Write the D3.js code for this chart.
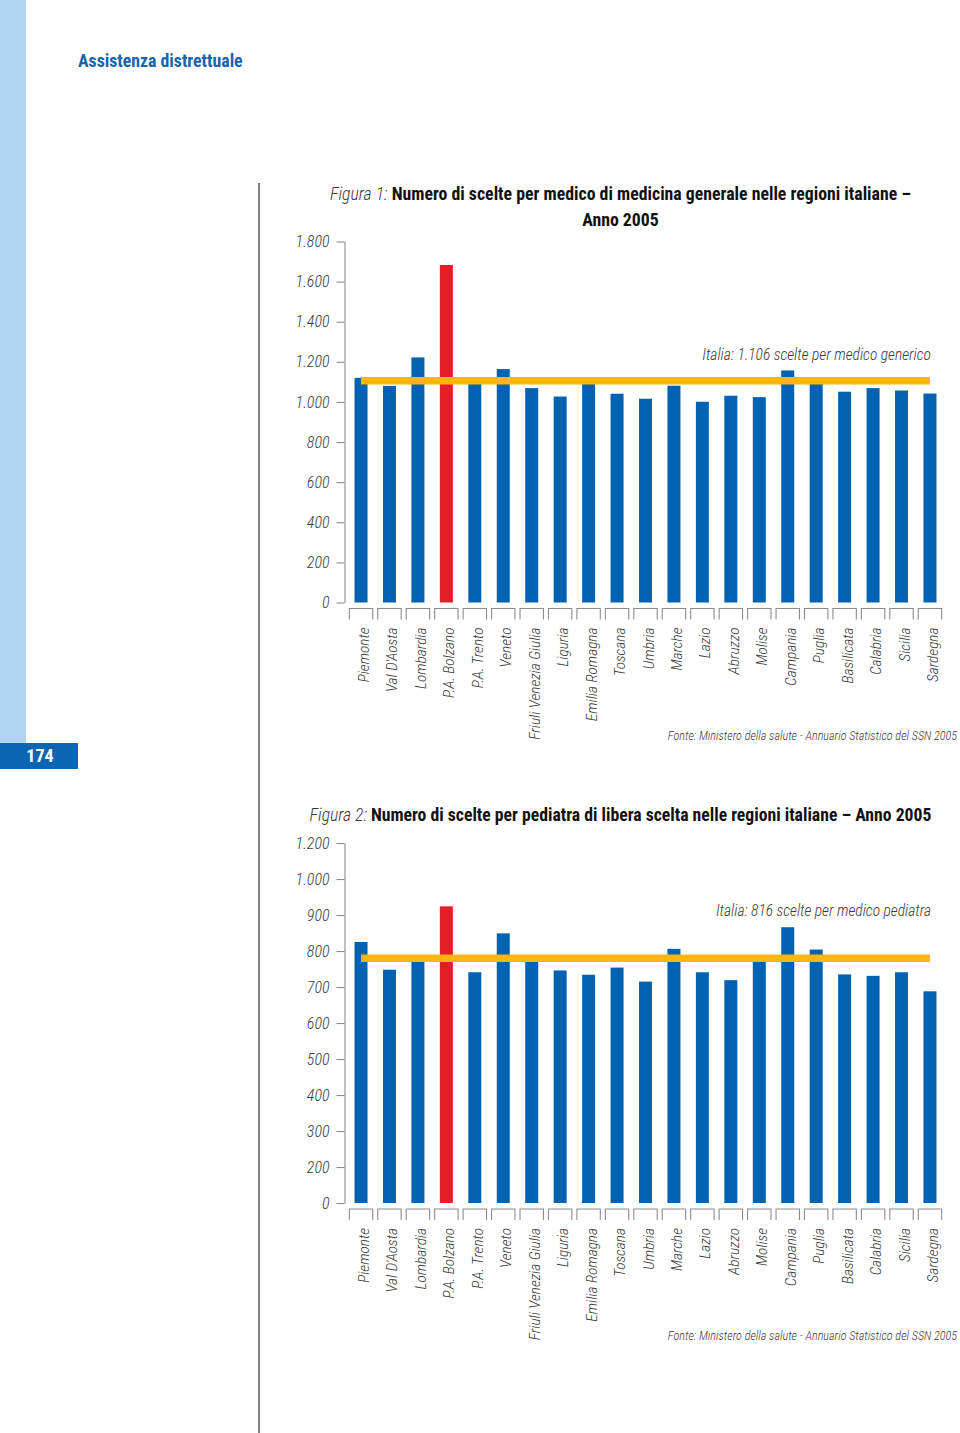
<!DOCTYPE html>
<html>
<head>
<meta charset="utf-8">
<script src="https://cdn.jsdelivr.net/npm/d3@7"></script>
<style>
  html, body { margin: 0; padding: 0; background: #fff; }
  svg { display: block; }
  .cond { font-family: 'Liberation Sans Narrow', 'Roboto Condensed', 'DejaVu Sans Condensed', 'Liberation Sans', sans-serif; font-stretch: condensed; }
</style>
</head>
<body>
<div id="chart"></div>
<script>
// ---------- DATA ----------
const categories = ["Piemonte", "Val D'Aosta", "Lombardia", "P.A. Bolzano", "P.A. Trento", "Veneto",
  "Friuli Venezia Giulia", "Liguria", "Emilia Romagna", "Toscana", "Umbria", "Marche", "Lazio",
  "Abruzzo", "Molise", "Campania", "Puglia", "Basilicata", "Calabria", "Sicilia", "Sardegna"];

// Figura 1: scelte per medico di medicina generale
const values1 = [1120, 1080, 1222, 1683, 1095, 1164, 1069, 1027, 1095, 1041, 1016, 1081, 1001,
  1031, 1024, 1157, 1095, 1051, 1069, 1057, 1042];
const italia1 = 1106;
const ticks1 = [0, 200, 400, 600, 800, 1000, 1200, 1400, 1600, 1800];

// Figura 2: scelte per pediatra di libera scelta
const values2 = [825, 748, 775, 924, 741, 849, 775, 746, 734, 754, 715, 806, 741,
  719, 775, 866, 804, 735, 731, 741, 688];
const italia2Label = 816;
const italia2Line = 780;   // position of the reference line as drawn
const ticks2 = [0, 200, 300, 400, 500, 600, 700, 800, 900, 1000, 1200];
const domain2 = [0, 200, 1000, 1200];   // axis as printed (uneven labelling)

const highlight = "P.A. Bolzano";

const texts = {
  section: "Assistenza distrettuale",
  page: "174",
  fig1Label: "Figura 1:",
  fig1Title1: "Numero di scelte per medico di medicina generale nelle regioni italiane –",
  fig1Title2: "Anno 2005",
  fig1Note: "Italia: 1.106 scelte per medico generico",
  fig2Label: "Figura 2:",
  fig2Title: "Numero di scelte per pediatra di libera scelta nelle regioni italiane – Anno 2005",
  fig2Note: "Italia: 816 scelte per medico pediatra",
  source: "Fonte: Ministero della salute - Annuario Statistico del SSN 2005"
};

// ---------- STYLE ----------
const W = 960, H = 1433;
const BLUE = "#0062b0", RED = "#e31e25", GOLD = "#fbb614", GRAY = "#8c8c8c", TXT = "#3a3a3a";
const locale = d3.formatLocale({ decimal: ",", thousands: ".", grouping: [3], currency: ["€", ""] });
const fmt = locale.format(",");

const svg = d3.select("#chart").append("svg").attr("width", W).attr("height", H);

// side band & page number
svg.append("rect").attr("x", 0).attr("y", 0).attr("width", 26).attr("height", 744).attr("fill", "#b0d4f1");
svg.append("rect").attr("x", 0).attr("y", 743).attr("width", 78).attr("height", 26).attr("fill", "#0b65b3");
svg.append("text").attr("class", "cond").attr("x", 40).attr("y", 762).attr("text-anchor", "middle")
  .attr("fill", "#fff").attr("font-weight", "bold").attr("font-size", 18).text(texts.page);
svg.append("text").attr("class", "cond").attr("x", 78).attr("y", 67)
  .attr("fill", "#1663ae").attr("font-weight", "bold").attr("font-size", 17.8).text(texts.section);
// divider
svg.append("line").attr("x1", 259).attr("x2", 259).attr("y1", 183).attr("y2", H)
  .attr("stroke", "#555").attr("stroke-width", 1.5);

function drawChart(opt) {
  const g = svg.append("g");
  const x = d3.scaleBand().domain(categories).range([346.8, 944.2]).padding(0);
  const cx = c => x(c) + x.bandwidth() / 2;
  const y = opt.y;
  const barW = 13;

  // axis
  const axis = d3.axisLeft(y).tickValues(opt.ticks).tickSize(8).tickSizeOuter(0).tickPadding(7)
    .tickFormat(fmt);
  const ax = g.append("g").attr("transform", "translate(344.5,0)").call(axis);
  ax.select(".domain").attr("stroke", GRAY).attr("stroke-width", 1.1);
  ax.selectAll(".tick line").attr("stroke", GRAY).attr("stroke-width", 1.1);
  ax.selectAll(".tick text").attr("class", "cond").attr("font-size", 16).attr("font-style", "italic")
    .attr("font-weight", 300).attr("fill", TXT);

  // bars
  g.append("g").selectAll("rect").data(opt.values).join("rect")
    .attr("x", (d, i) => cx(categories[i]) - barW / 2)
    .attr("width", barW)
    .attr("y", d => y(d))
    .attr("height", d => y(0) - y(d))
    .attr("fill", (d, i) => categories[i] === highlight ? RED : BLUE);

  // reference line
  g.append("line")
    .attr("x1", cx(categories[0])).attr("x2", cx(categories[categories.length - 1]))
    .attr("y1", y(opt.ref)).attr("y2", y(opt.ref))
    .attr("stroke", GOLD).attr("stroke-width", 7.5);

  g.append("text").attr("class", "cond").attr("x", 931).attr("y", opt.noteY).attr("text-anchor", "end")
    .attr("font-size", 15.5).attr("font-style", "italic").attr("font-weight", 300).attr("fill", TXT)
    .text(opt.note);

  // category brackets
  const y0 = y(0);
  g.append("g").selectAll("path").data(categories).join("path")
    .attr("d", c => `M${cx(c) - 11.7},${y0 + 17}V${y0 + 6}H${cx(c) + 11.7}V${y0 + 17}`)
    .attr("fill", "none").attr("stroke", GRAY).attr("stroke-width", 1.1);

  // category labels
  g.append("g").selectAll("text").data(categories).join("text")
    .attr("class", "cond")
    .attr("transform", c => `translate(${cx(c) + 8},${y0 + 25}) rotate(-90)`)
    .attr("text-anchor", "end")
    .attr("font-size", 15.3).attr("font-style", "italic").attr("font-weight", 300).attr("fill", TXT)
    .text(c => c);

  // source
  g.append("text").attr("class", "cond").attr("x", 957).attr("y", opt.sourceY).attr("text-anchor", "end")
    .attr("font-size", 12.2).attr("font-style", "italic").attr("font-weight", 300).attr("fill", TXT)
    .text(texts.source);
}

// Figure 1 title
const t1 = svg.append("text").attr("class", "cond").attr("x", 620.5).attr("y", 200).attr("text-anchor", "middle")
  .attr("font-size", 17.8).attr("fill", "#111");
t1.append("tspan").attr("font-style", "italic").attr("font-weight", 300).attr("fill", TXT).text(texts.fig1Label + " ");
t1.append("tspan").attr("font-weight", "bold").text(texts.fig1Title1);
svg.append("text").attr("class", "cond").attr("x", 620.5).attr("y", 226).attr("text-anchor", "middle")
  .attr("font-size", 17.8).attr("font-weight", "bold").attr("fill", "#111").text(texts.fig1Title2);

drawChart({
  values: values1,
  y: d3.scaleLinear().domain([0, 1800]).range([602.5, 241.5]),
  ticks: ticks1,
  ref: italia1,
  note: texts.fig1Note,
  noteY: 360,
  sourceY: 740
});

// Figure 2 title
const t2 = svg.append("text").attr("class", "cond").attr("x", 620.5).attr("y", 821).attr("text-anchor", "middle")
  .attr("font-size", 17.7).attr("fill", "#111");
t2.append("tspan").attr("font-style", "italic").attr("font-weight", 300).attr("fill", TXT).text(texts.fig2Label + " ");
t2.append("tspan").attr("font-weight", "bold").text(texts.fig2Title);

drawChart({
  values: values2,
  y: d3.scaleLinear().domain(domain2).range([1203, 1167, 879, 843]),
  ticks: ticks2,
  ref: italia2Line,
  note: texts.fig2Note,
  noteY: 916,
  sourceY: 1340
});
</script>
</body>
</html>
